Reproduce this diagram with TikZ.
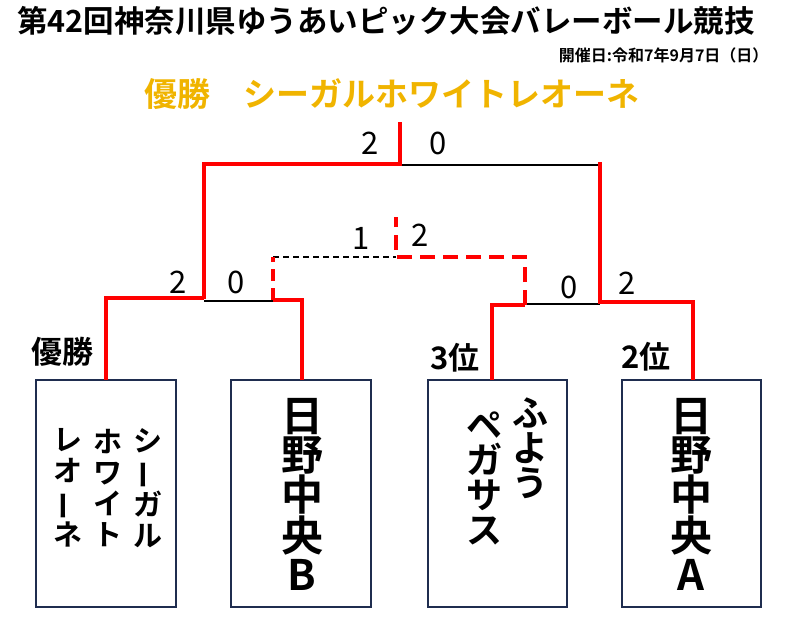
\documentclass[tikz,border=0pt]{standalone}
\usepackage{fontspec}
\setmainfont{Noto Sans CJK JP}[BoldFont={* Bold}]
\usetikzlibrary{positioning}
\definecolor{navy}{HTML}{1F2D4F}
\definecolor{gold}{HTML}{F0B400}
\tikzset{win/.style={red,line width=3.5pt},lose/.style={black,line width=1.2pt},
 bx/.style={draw=navy,line width=2.5pt},
 sc/.style={font=\fontsize{31}{31}\selectfont},
 lab/.style={font=\bfseries\fontsize{31}{31}\selectfont},
 vt/.style 2 args={align=center,inner sep=0,font=\bfseries\fontsize{#1}{#2}\selectfont}}
\newcommand{\vbar}{\rotatebox[origin=c]{90}{ー}}
\begin{document}
\begin{tikzpicture}[x=1pt,y=-1pt]
\useasboundingbox (0,0) rectangle (790,619);
\node[font=\bfseries\fontsize{30.5}{30.5}\selectfont] (title) at (386,21) {第42回神奈川県ゆうあいピック大会バレーボール競技};
\node[font=\bfseries\fontsize{16}{16}\selectfont,anchor=east] (date) at (772,55) {開催日:令和7年9月7日（日）};
\node[font=\bfseries\fontsize{33}{33}\selectfont,text=gold] (champ) at (392,94) {優勝　シーガルホワイトレオーネ};
% boxes
\draw[bx] (36,380) rectangle (176,607) coordinate (b1);
\draw[bx] (231,380) rectangle (371,607) coordinate (b2);
\draw[bx] (428,380) rectangle (567,607) coordinate (b3);
\draw[bx] (622,380) rectangle (761,607) coordinate (b4);
\node[vt={29}{31}] (t1a) at (148,488) {シ\\\vbar\\ガ\\ル};
\node[vt={29}{31}] (t1b) at (108,488) {ホ\\ワ\\イ\\ト};
\node[vt={29}{31}] (t1c) at (68,488) {レ\\オ\\\vbar\\ネ};
\node[vt={42}{39}] (t2) at (302,494) {日\\野\\中\\央\\B};
\node[vt={36}{35}] (t3a) at (530,448) {ふ\\よ\\う};
\node[vt={36}{35}] (t3b) at (484,478) {ペ\\ガ\\サ\\ス};
\node[vt={42}{39}] (t4) at (691,494) {日\\野\\中\\央\\A};
% bracket
\draw[lose] (204,301) -- (273,301);
\draw[lose] (525,304) -- (600,304);
\draw[lose] (400,165) -- (600,165);
\draw[lose,dashed,dash pattern=on 6pt off 4pt] (273,257) -- (396,257);
\draw[win] (106,380) -- (106,298) -- (204,298);
\draw[win] (302,380) -- (302,300) -- (273,300);
\draw[win,dash pattern=on 12pt off 7pt] (273,300) -- (273,257);
\draw[win] (204,299) -- (204,164) -- (400,164) -- (400,122);
\draw[win] (492,380) -- (492,305) -- (525,305);
\draw[win,dash pattern=on 15pt off 8pt] (525,305) -- (525,257) -- (396,257) -- (396,217);
\draw[win] (693,380) -- (693,302) -- (600,302) -- (600,162);
% scores
\node[sc] (s1) at (370,143) {2};
\node[sc] (s2) at (438,143) {0};
\node[sc] (s3) at (361,238) {1};
\node[sc] (s4) at (420,235) {2};
\node[sc] (s5) at (178,282) {2};
\node[sc] (s6) at (236,282) {0};
\node[sc] (s7) at (569,287) {0};
\node[sc] (s8) at (627,283) {2};
\node[lab] (l1) at (62,352) {優勝};
\node[lab] (l3) at (455,358) {3位};
\node[lab] (l2) at (646,357) {2位};
\end{tikzpicture}
\end{document}
